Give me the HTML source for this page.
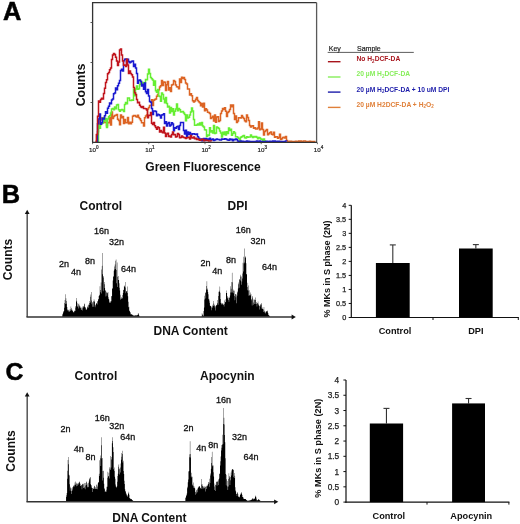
<!DOCTYPE html>
<html><head><meta charset="utf-8"><style>
html,body{margin:0;padding:0;background:#fff;}
body{width:520px;height:524px;overflow:hidden;}
svg{display:block;will-change:transform;filter:blur(0.3px);font-family:"Liberation Sans",sans-serif;}
</style></head><body>
<svg width="520" height="524" viewBox="0 0 520 524">
<rect width="520" height="524" fill="#fff"/>
<text x="2.9" y="19.7" font-size="25.4" font-weight="bold" fill="#000" stroke="#000" stroke-width="0.5">A</text>
<path d="M92.6,142.4V2.6H316.6" fill="none" stroke="#333" stroke-width="1.3"/>
<path d="M316.6,2.6V142.4" fill="none" stroke="#5a5a5a" stroke-width="1.3"/>
<line x1="90.5" y1="22.5" x2="92.6" y2="22.5" stroke="#444" stroke-width="0.9"/>
<line x1="90.5" y1="62.5" x2="92.6" y2="62.5" stroke="#444" stroke-width="0.9"/>
<line x1="90.5" y1="102.5" x2="92.6" y2="102.5" stroke="#444" stroke-width="0.9"/>
<path d="M95.5,141.3H96.5V134.7H97.5V131.7H98.5V124.7H99.5V117.6H100.5V119.8H101.5V118.0H102.5V120.9H103.5V117.6H104.5V122.6H105.5V122.6H106.5V125.8H107.5V122.6H108.5V122.7H109.5V117.6H110.5V124.9H111.5V111.9H112.5V118.4H113.5V116.5H114.5V115.5H115.5V115.2H116.5V114.4H117.5V119.3H118.5V120.5H119.5V124.7H120.5V115.1H121.5V117.8H122.5V116.4H123.5V123.5H124.5V119.6H125.5V122.8H126.5V122.7H127.5V117.5H128.5V123.8H129.5V122.2H130.5V123.7H131.5V122.3H132.5V116.3H133.5V115.4H134.5V115.5H135.5V116.5H136.5V117.0H137.5V115.3H138.5V117.5H139.5V118.8H140.5V120.6H141.5V122.8H142.5V122.7H143.5V125.9H144.5V117.8H145.5V116.0H146.5V115.1H147.5V109.0H148.5V107.6H149.5V105.5H150.5V105.5H151.5V99.8H152.5V105.6H153.5V100.2H154.5V99.4H155.5V99.0H156.5V96.3H157.5V94.5H158.5V89.7H159.5V87.0H160.5V85.8H161.5V80.6H162.5V85.6H163.5V82.1H164.5V82.3H165.5V90.6H166.5V84.7H167.5V81.5H168.5V89.9H169.5V87.7H170.5V91.5H171.5V85.0H172.5V84.4H173.5V80.6H174.5V81.4H175.5V85.0H176.5V86.8H177.5V86.9H178.5V88.8H179.5V78.9H180.5V82.4H181.5V77.2H182.5V78.6H183.5V77.4H184.5V79.5H185.5V83.1H186.5V84.1H187.5V89.0H188.5V89.0H189.5V95.0H190.5V93.7H191.5V95.7H192.5V100.7H193.5V101.9H194.5V101.1H195.5V99.3H196.5V97.5H197.5V100.6H198.5V101.8H199.5V102.7H200.5V105.7H201.5V103.5H202.5V106.9H203.5V103.2H204.5V110.7H205.5V108.7H206.5V109.9H207.5V112.3H208.5V112.5H209.5V113.6H210.5V118.5H211.5V117.4H212.5V116.3H213.5V120.9H214.5V115.1H215.5V122.3H216.5V117.0H217.5V116.8H218.5V121.4H219.5V120.5H220.5V113.4H221.5V111.0H222.5V108.4H223.5V109.4H224.5V107.8H225.5V111.2H226.5V116.5H227.5V112.4H228.5V111.6H229.5V109.4H230.5V104.9H231.5V106.7H232.5V104.9H233.5V113.4H234.5V119.6H235.5V116.1H236.5V122.5H237.5V121.1H238.5V117.7H239.5V117.7H240.5V117.9H241.5V115.6H242.5V117.3H243.5V118.5H244.5V120.8H245.5V121.8H246.5V115.0H247.5V117.4H248.5V120.6H249.5V125.6H250.5V126.9H251.5V125.9H252.5V125.7H253.5V128.2H254.5V127.8H255.5V129.1H256.5V129.1H257.5V128.1H258.5V121.8H259.5V129.8H260.5V128.9H261.5V123.1H262.5V129.6H263.5V135.0H264.5V131.5H265.5V130.4H266.5V129.4H267.5V134.7H268.5V133.8H269.5V132.8H270.5V132.0H271.5V134.2H272.5V134.7H273.5V132.3H274.5V137.3H275.5V136.7H276.5V136.7H277.5V138.2H278.5V137.6H279.5V134.2H280.5V139.4H281.5V138.8H282.5V137.5H283.5V137.2H284.5V137.9H285.5V136.4H286.5V140.4H287.5V141.4H288.5V141.4H289.5V141.2H290.5V141.3H291.5V141.6H292.5V141.6H293.5V141.6H294.5V141.5H295.5V141.2H296.5V141.6H297.5V141.6H298.5V141.0H299.5V141.6H300.5V140.9H301.5V141.4H302.5V141.6H303.5V141.1H304.5V141.1H305.5V141.6H306.5V141.6H307.5V141.4H308.5V141.6H309.5V141.3H310.5V141.6H311.5V141.5H312.5V141.6H313.5V141.6H314.5V141.6H315.5V141.6" fill="none" stroke="#dc6424" stroke-width="1.5" stroke-linejoin="miter"/>
<path d="M97.5,141.6H98.5V124.9H99.5V128.3H100.5V124.6H101.5V123.6H102.5V123.0H103.5V117.7H104.5V120.9H105.5V118.4H106.5V127.5H107.5V119.0H108.5V116.7H109.5V115.8H110.5V112.9H111.5V109.0H112.5V108.6H113.5V109.7H114.5V106.9H115.5V108.8H116.5V105.0H117.5V104.6H118.5V109.7H119.5V111.3H120.5V110.1H121.5V109.6H122.5V110.0H123.5V111.6H124.5V104.4H125.5V102.4H126.5V103.7H127.5V97.9H128.5V98.0H129.5V100.5H130.5V100.4H131.5V99.9H132.5V100.3H133.5V89.2H134.5V95.8H135.5V89.0H136.5V86.0H137.5V89.3H138.5V88.8H139.5V84.4H140.5V81.2H141.5V82.9H142.5V82.4H143.5V85.5H144.5V82.8H145.5V79.5H146.5V79.7H147.5V74.0H148.5V69.3H149.5V73.4H150.5V77.4H151.5V78.8H152.5V80.1H153.5V85.2H154.5V81.0H155.5V90.7H156.5V92.2H157.5V89.4H158.5V96.1H159.5V96.4H160.5V101.2H161.5V93.1H162.5V94.5H163.5V99.0H164.5V102.8H165.5V97.5H166.5V103.6H167.5V107.0H168.5V106.3H169.5V113.1H170.5V107.4H171.5V111.6H172.5V108.7H173.5V115.1H174.5V111.2H175.5V108.9H176.5V104.1H177.5V110.8H178.5V108.5H179.5V109.8H180.5V112.1H181.5V111.8H182.5V111.5H183.5V113.1H184.5V114.6H185.5V120.8H186.5V115.0H187.5V118.1H188.5V117.3H189.5V114.9H190.5V112.0H191.5V107.9H192.5V111.0H193.5V119.5H194.5V125.2H195.5V125.2H196.5V125.0H197.5V124.0H198.5V124.9H199.5V123.0H200.5V125.0H201.5V122.4H202.5V126.1H203.5V127.0H204.5V129.8H205.5V130.0H206.5V136.6H207.5V134.9H208.5V135.6H209.5V127.8H210.5V131.9H211.5V130.7H212.5V132.9H213.5V125.6H214.5V133.6H215.5V133.0H216.5V127.0H217.5V127.8H218.5V128.6H219.5V130.9H220.5V132.9H221.5V136.9H222.5V132.2H223.5V134.4H224.5V132.1H225.5V135.1H226.5V131.8H227.5V133.6H228.5V128.0H229.5V130.4H230.5V129.2H231.5V135.2H232.5V133.6H233.5V131.7H234.5V133.1H235.5V136.7H236.5V136.7H237.5V137.4H238.5V138.5H239.5V140.5H240.5V137.3H241.5V136.8H242.5V135.9H243.5V135.5H244.5V137.8H245.5V138.1H246.5V136.8H247.5V137.2H248.5V137.0H249.5V137.1H250.5V135.0H251.5V136.5H252.5V137.4H253.5V136.4H254.5V136.9H255.5V136.6H256.5V137.3H257.5V138.8H258.5V137.6H259.5V138.0H260.5V139.1H261.5V139.2H262.5V140.4H263.5V139.0H264.5V140.8H265.5V141.1" fill="none" stroke="#66ee33" stroke-width="1.5" stroke-linejoin="miter"/>
<path d="M96.5,141.6H97.5V123.7H98.5V119.0H99.5V114.1H100.5V124.3H101.5V122.7H102.5V118.2H103.5V118.9H104.5V115.7H105.5V111.7H106.5V113.3H107.5V108.3H108.5V106.2H109.5V103.1H110.5V103.8H111.5V100.0H112.5V99.1H113.5V93.8H114.5V93.1H115.5V88.1H116.5V89.8H117.5V85.7H118.5V83.3H119.5V80.5H120.5V70.6H121.5V69.2H122.5V70.9H123.5V60.7H124.5V59.3H125.5V58.9H126.5V63.0H127.5V59.3H128.5V61.6H129.5V62.7H130.5V62.0H131.5V61.2H132.5V61.1H133.5V66.6H134.5V64.3H135.5V68.0H136.5V73.6H137.5V83.3H138.5V80.3H139.5V79.9H140.5V81.5H141.5V86.0H142.5V84.3H143.5V89.3H144.5V82.9H145.5V91.7H146.5V93.5H147.5V89.6H148.5V95.9H149.5V101.4H150.5V102.2H151.5V108.4H152.5V114.4H153.5V110.9H154.5V111.1H155.5V111.4H156.5V115.8H157.5V114.3H158.5V114.8H159.5V115.5H160.5V118.1H161.5V114.9H162.5V114.8H163.5V113.7H164.5V123.4H165.5V121.7H166.5V126.1H167.5V123.5H168.5V122.5H169.5V125.9H170.5V125.1H171.5V122.7H172.5V124.0H173.5V130.7H174.5V127.7H175.5V128.2H176.5V126.8H177.5V126.2H178.5V129.4H179.5V125.5H180.5V122.4H181.5V122.4H182.5V122.5H183.5V130.5H184.5V134.0H185.5V130.3H186.5V136.4H187.5V132.1H188.5V134.4H189.5V132.4H190.5V133.9H191.5V134.6H192.5V133.8H193.5V133.8H194.5V134.3H195.5V134.5H196.5V134.1H197.5V136.7H198.5V138.2H199.5V139.0H200.5V138.9H201.5V140.7H202.5V138.9H203.5V138.5H204.5V140.4H205.5V138.5H206.5V140.0H207.5V138.9H208.5V139.7H209.5V138.3H210.5V140.0H211.5V139.4H212.5V138.9H213.5V140.5H214.5V140.0H215.5V139.5H216.5V139.1H217.5V139.5H218.5V139.4H219.5V139.9H220.5V140.0H221.5V139.1H222.5V139.2H223.5V139.2H224.5V138.7H225.5V139.1H226.5V139.4H227.5V139.9H228.5V140.3H229.5V139.0H230.5V139.8H231.5V139.2H232.5V140.7H233.5V139.5H234.5V139.8H235.5V138.9H236.5V139.6H237.5V141.1H238.5V141.4H239.5V141.6H240.5V141.1H241.5V141.6H242.5V141.2H243.5V141.6H244.5V141.4H245.5V141.6H246.5V141.1H247.5V141.6H248.5V141.2H249.5V141.4H250.5V141.5H251.5V141.4H252.5V141.6H253.5V141.6H254.5V141.6H255.5V141.5H256.5V141.1H257.5V141.3H258.5V141.4H259.5V140.9H260.5V141.6H261.5V141.4H262.5V141.4H263.5V141.6H264.5V141.6H265.5V141.6H266.5V141.2H267.5V141.6H268.5V141.6H269.5V141.2H270.5V141.6H271.5V141.6H272.5V140.9H273.5V141.5H274.5V141.1H275.5V141.6H276.5V141.6H277.5V141.2H278.5V141.2H279.5V141.5H280.5V141.4H281.5V141.6H282.5V141.6H283.5V141.4H284.5V141.6H285.5V140.9H286.5V141.6" fill="none" stroke="#1a1ad0" stroke-width="1.5" stroke-linejoin="miter"/>
<path d="M95.5,141.6H96.5V134.5H97.5V116.3H98.5V100.9H99.5V102.2H100.5V99.6H101.5V98.2H102.5V98.9H103.5V93.4H104.5V88.2H105.5V82.6H106.5V79.8H107.5V73.7H108.5V72.6H109.5V69.8H110.5V67.9H111.5V59.6H112.5V55.1H113.5V53.6H114.5V54.5H115.5V57.3H116.5V61.1H117.5V65.6H118.5V61.9H119.5V50.0H120.5V49.0H121.5V54.9H122.5V61.0H123.5V65.2H124.5V65.0H125.5V66.6H126.5V59.3H127.5V65.1H128.5V73.4H129.5V71.1H130.5V73.6H131.5V74.8H132.5V77.0H133.5V87.4H134.5V92.8H135.5V94.6H136.5V99.4H137.5V102.8H138.5V102.2H139.5V105.3H140.5V106.7H141.5V107.6H142.5V106.5H143.5V108.4H144.5V108.5H145.5V108.8H146.5V110.0H147.5V117.8H148.5V115.3H149.5V115.6H150.5V112.4H151.5V123.2H152.5V124.5H153.5V122.5H154.5V125.7H155.5V127.6H156.5V129.2H157.5V127.1H158.5V127.8H159.5V132.0H160.5V130.6H161.5V131.9H162.5V132.7H163.5V127.2H164.5V133.0H165.5V136.5H166.5V134.1H167.5V133.3H168.5V136.6H169.5V135.9H170.5V137.0H171.5V134.4H172.5V131.9H173.5V134.7H174.5V134.5H175.5V137.1H176.5V136.4H177.5V133.6H178.5V134.5H179.5V137.8H180.5V137.6H181.5V135.9H182.5V136.9H183.5V137.6H184.5V137.8H185.5V138.4H186.5V137.7H187.5V137.4H188.5V137.3H189.5V138.9H190.5V135.4H191.5V137.8H192.5V138.1H193.5V137.0H194.5V138.8H195.5V138.2H196.5V139.6H197.5V139.1H198.5V139.8H199.5V140.3H200.5V139.9H201.5V139.3H202.5V139.2H203.5V140.8H204.5V140.1H205.5V140.0H206.5V140.4H207.5V140.4H208.5V140.9H209.5V140.9H210.5V141.1H211.5V141.2" fill="none" stroke="#c0141c" stroke-width="1.5" stroke-linejoin="miter"/>
<line x1="92" y1="142.4" x2="317" y2="142.4" stroke="#333" stroke-width="1.3"/>
<line x1="92.6" y1="142.4" x2="92.6" y2="144.2" stroke="#444" stroke-width="0.8"/>
<text x="89.0" y="151.5" font-size="6.2" fill="#222" stroke="#222" stroke-width="0.2">10<tspan dy="-2.6" font-size="4.6">0</tspan></text>
<line x1="148.8" y1="142.4" x2="148.8" y2="144.2" stroke="#444" stroke-width="0.8"/>
<text x="145.2" y="151.5" font-size="6.2" fill="#222" stroke="#222" stroke-width="0.2">10<tspan dy="-2.6" font-size="4.6">1</tspan></text>
<line x1="205.0" y1="142.4" x2="205.0" y2="144.2" stroke="#444" stroke-width="0.8"/>
<text x="201.4" y="151.5" font-size="6.2" fill="#222" stroke="#222" stroke-width="0.2">10<tspan dy="-2.6" font-size="4.6">2</tspan></text>
<line x1="261.2" y1="142.4" x2="261.2" y2="144.2" stroke="#444" stroke-width="0.8"/>
<text x="257.6" y="151.5" font-size="6.2" fill="#222" stroke="#222" stroke-width="0.2">10<tspan dy="-2.6" font-size="4.6">3</tspan></text>
<line x1="317.4" y1="142.4" x2="317.4" y2="144.2" stroke="#444" stroke-width="0.8"/>
<text x="313.8" y="151.5" font-size="6.2" fill="#222" stroke="#222" stroke-width="0.2">10<tspan dy="-2.6" font-size="4.6">4</tspan></text>
<text transform="translate(85.0,85) rotate(-90)" font-size="12.4" font-weight="bold" text-anchor="middle" fill="#111">Counts</text>
<text x="145.3" y="170.6" font-size="12" font-weight="bold" fill="#111">Green Fluorescence</text>
<text x="328.8" y="51" font-size="7" fill="#222" stroke="#222" stroke-width="0.2">Key</text>
<text x="357" y="51" font-size="7" fill="#222" stroke="#222" stroke-width="0.2">Sample</text>
<line x1="327.7" y1="52.4" x2="413.8" y2="52.4" stroke="#333" stroke-width="0.8"/>
<line x1="327.9" y1="61.7" x2="340.5" y2="61.7" stroke="#a8141c" stroke-width="1.4"/>
<text x="356.5" y="61.1" font-size="6.7" font-weight="bold" fill="#a8141c">No H<tspan font-size='4.5' dy='1.5'>2</tspan><tspan dy='-1.5'>DCF-DA</tspan></text>
<line x1="327.9" y1="77.0" x2="340.5" y2="77.0" stroke="#86ee5a" stroke-width="1.4"/>
<text x="356.5" y="76.4" font-size="6.7" font-weight="bold" fill="#86ee5a">20 µM H<tspan font-size='4.5' dy='1.5'>2</tspan><tspan dy='-1.5'>DCF-DA</tspan></text>
<line x1="327.9" y1="92.1" x2="340.5" y2="92.1" stroke="#1c1caa" stroke-width="1.4"/>
<text x="356.5" y="91.5" font-size="6.7" font-weight="bold" fill="#1c1caa">20 µM H<tspan font-size='4.5' dy='1.5'>2</tspan><tspan dy='-1.5'>DCF-DA + 10 uM DPI</tspan></text>
<line x1="327.9" y1="107.4" x2="340.5" y2="107.4" stroke="#e0803a" stroke-width="1.4"/>
<text x="356.5" y="106.80000000000001" font-size="6.7" font-weight="bold" fill="#e0803a">20 µM H2DCF-DA + H<tspan font-size='4.5' dy='1.5'>2</tspan><tspan dy='-1.5'>O</tspan><tspan font-size='4.5' dy='1.5'>2</tspan></text>
<text x="1.7" y="203.3" font-size="25.4" font-weight="bold" fill="#000" stroke="#000" stroke-width="0.5">B</text>
<path d="M62.00,316.8V316.5H62.35V314.4H62.70V313.8H63.05V312.5H63.40V311.6H63.75V310.9H64.10V307.8H64.45V303.1H64.80V299.9H65.15V304.1H65.50V294.3H65.85V298.2H66.20V301.1H66.55V303.8H66.90V307.0H67.25V309.4H67.60V310.6H67.95V309.8H68.30V310.2H68.65V311.5H69.00V311.3H69.35V311.7H69.70V309.4H70.05V309.2H70.40V311.0H70.75V306.4H71.10V307.9H71.45V310.2H71.80V309.2H72.15V310.3H72.50V310.9H72.85V311.5H73.20V312.3H73.55V312.2H73.90V312.3H74.25V310.8H74.60V310.8H74.95V310.9H75.30V307.5H75.65V306.0H76.00V301.8H76.35V297.9H76.70V300.7H77.05V303.2H77.40V306.5H77.75V306.6H78.10V308.6H78.45V304.2H78.80V303.6H79.15V306.3H79.50V305.2H79.85V307.6H80.20V306.5H80.55V308.0H80.90V309.6H81.25V310.1H81.60V307.4H81.95V308.3H82.30V310.4H82.65V306.6H83.00V306.4H83.35V307.4H83.70V306.0H84.05V304.3H84.40V303.6H84.75V307.0H85.10V307.4H85.45V307.6H85.80V309.4H86.15V309.4H86.50V309.8H86.85V308.4H87.20V306.5H87.55V307.2H87.90V305.2H88.25V304.4H88.60V307.7H88.95V305.1H89.30V303.1H89.65V301.1H90.00V302.5H90.35V296.7H90.70V294.5H91.05V292.0H91.40V300.6H91.75V304.2H92.10V302.6H92.45V306.7H92.80V302.1H93.15V301.0H93.50V306.7H93.85V299.3H94.20V300.8H94.55V301.9H94.90V307.3H95.25V304.7H95.60V305.4H95.95V304.1H96.30V303.2H96.65V303.0H97.00V304.4H97.35V301.2H97.70V301.2H98.05V299.5H98.40V298.9H98.75V295.9H99.10V294.7H99.45V295.5H99.80V286.3H100.15V292.2H100.50V290.0H100.85V282.5H101.20V293.5H101.55V269.6H101.90V265.8H102.25V253.0H102.60V274.3H102.95V291.3H103.30V277.5H103.65V275.9H104.00V282.0H104.35V284.2H104.70V288.1H105.05V290.5H105.40V290.6H105.75V296.4H106.10V291.8H106.45V292.8H106.80V295.7H107.15V293.3H107.50V292.7H107.85V292.0H108.20V297.3H108.55V298.9H108.90V299.4H109.25V302.9H109.60V301.7H109.95V302.2H110.30V302.8H110.65V301.1H111.00V301.2H111.35V296.2H111.70V296.0H112.05V289.1H112.40V287.9H112.75V280.4H113.10V277.1H113.45V275.9H113.80V270.8H114.15V269.4H114.50V266.6H114.85V264.6H115.20V269.0H115.55V260.8H115.90V259.4H116.25V283.2H116.60V270.0H116.95V262.6H117.30V287.1H117.65V276.7H118.00V276.0H118.35V280.0H118.70V279.9H119.05V283.2H119.40V287.7H119.75V290.6H120.10V299.7H120.45V294.7H120.80V298.6H121.15V296.9H121.50V298.7H121.85V298.4H122.20V298.3H122.55V294.9H122.90V293.0H123.25V289.8H123.60V289.9H123.95V286.1H124.30V287.1H124.65V285.4H125.00V282.0H125.35V287.5H125.70V293.3H126.05V291.5H126.40V291.2H126.75V291.0H127.10V286.6H127.45V293.1H127.80V296.2H128.15V301.8H128.50V307.3H128.85V306.7H129.20V310.8H129.55V310.7H129.90V312.1H130.25V312.6H130.60V314.2H130.95V314.7H131.30V313.9H131.65V314.3H132.00V314.6H132.35V315.2H132.70V314.9H133.05V315.4H133.40V315.4H133.75V315.5H134.10V315.8H134.45V315.6H134.80V315.5H135.15V315.4H135.50V315.3H135.85V315.2H136.20V315.4H136.55V315.3H136.90V315.4H137.25V314.7H137.60V314.9H137.95V312.9H138.30V313.8H138.65V314.8H139.00V315.6H139.35V316.2H139.70V316.8Z" fill="#000"/>
<path d="M201.50,316.8V316.5H201.85V313.3H202.20V314.3H202.55V315.3H202.90V315.8H203.25V315.8H203.60V311.1H203.95V307.6H204.30V299.4H204.65V295.8H205.00V292.7H205.35V292.6H205.70V298.6H206.05V286.0H206.40V289.5H206.75V281.2H207.10V289.7H207.45V288.4H207.80V292.1H208.15V294.2H208.50V299.3H208.85V298.8H209.20V300.5H209.55V302.7H209.90V305.6H210.25V306.1H210.60V306.0H210.95V307.5H211.30V306.5H211.65V310.2H212.00V307.8H212.35V306.2H212.70V304.8H213.05V306.0H213.40V301.0H213.75V303.6H214.10V304.8H214.45V305.8H214.80V307.4H215.15V310.4H215.50V306.3H215.85V305.8H216.20V305.3H216.55V305.1H216.90V304.4H217.25V302.9H217.60V300.0H217.95V304.8H218.30V295.9H218.65V291.7H219.00V292.0H219.35V290.8H219.70V286.6H220.05V292.8H220.40V299.0H220.75V303.1H221.10V302.7H221.45V304.1H221.80V305.0H222.15V303.1H222.50V303.9H222.85V303.4H223.20V304.5H223.55V304.9H223.90V306.4H224.25V303.9H224.60V300.6H224.95V299.2H225.30V302.0H225.65V302.3H226.00V293.1H226.35V290.4H226.70V293.0H227.05V297.4H227.40V296.1H227.75V298.6H228.10V300.0H228.45V297.4H228.80V301.7H229.15V297.6H229.50V297.8H229.85V295.6H230.20V292.5H230.55V286.3H230.90V288.7H231.25V292.6H231.60V281.9H231.95V272.8H232.30V282.3H232.65V292.4H233.00V293.3H233.35V290.7H233.70V289.5H234.05V290.8H234.40V295.9H234.75V300.2H235.10V294.3H235.45V294.0H235.80V297.2H236.15V294.5H236.50V303.3H236.85V295.7H237.20V291.6H237.55V292.6H237.90V288.4H238.25V284.3H238.60V282.5H238.95V287.8H239.30V279.2H239.65V279.6H240.00V280.6H240.35V274.8H240.70V276.4H241.05V276.4H241.40V284.8H241.75V281.4H242.10V273.4H242.45V278.6H242.80V262.7H243.15V271.4H243.50V256.8H243.85V263.4H244.20V262.5H244.55V248.6H244.90V257.4H245.25V256.3H245.60V257.6H245.95V263.2H246.30V273.9H246.65V274.5H247.00V290.3H247.35V287.0H247.70V282.7H248.05V285.6H248.40V290.5H248.75V295.8H249.10V290.3H249.45V295.4H249.80V295.1H250.15V295.5H250.50V292.5H250.85V294.0H251.20V299.0H251.55V300.2H251.90V305.4H252.25V296.0H252.60V297.5H252.95V299.6H253.30V304.7H253.65V302.6H254.00V304.1H254.35V299.8H254.70V299.6H255.05V297.5H255.40V300.0H255.75V304.0H256.10V302.0H256.45V303.7H256.80V306.5H257.15V302.9H257.50V303.5H257.85V301.5H258.20V305.2H258.55V303.8H258.90V305.6H259.25V306.1H259.60V309.6H259.95V306.4H260.30V304.9H260.65V303.9H261.00V303.0H261.35V304.5H261.70V308.4H262.05V307.5H262.40V309.1H262.75V309.1H263.10V309.6H263.45V312.0H263.80V307.0H264.15V311.7H264.50V310.8H264.85V313.1H265.20V311.8H265.55V313.4H265.90V311.7H266.25V311.4H266.60V311.1H266.95V310.9H267.30V310.5H267.65V312.6H268.00V313.2H268.35V314.9H268.70V315.2H269.05V315.6H269.40V316.0H269.75V316.4H270.10V316.8Z" fill="#000"/>
<line x1="27.2" y1="317.0" x2="27.2" y2="213.3" stroke="#555" stroke-width="1.5"/>
<path d="M27.2,209.8L24.8,214.0L29.599999999999998,214.0Z" fill="#111"/>
<line x1="26.45" y1="317.0" x2="292.3" y2="317.0" stroke="#333" stroke-width="1.5"/>
<path d="M295.8,317.0L291.6,314.6L291.6,319.4Z" fill="#111"/>
<text transform="translate(12.2,259.5) rotate(-90)" font-size="12" font-weight="bold" text-anchor="middle" fill="#111">Counts</text>
<text x="79.5" y="210.2" font-size="12" font-weight="bold" fill="#111">Control</text>
<text x="227.5" y="210.2" font-size="12" font-weight="bold" fill="#111">DPI</text>
<text x="153.5" y="334.7" font-size="12" font-weight="bold" fill="#111">DNA Content</text>
<text x="59.099999999999994" y="266.79999999999995" font-size="9" font-weight="normal" text-anchor="start" fill="#111" stroke="#111" stroke-width="0.3">2n</text>
<text x="70.89999999999999" y="274.7" font-size="9" font-weight="normal" text-anchor="start" fill="#111" stroke="#111" stroke-width="0.3">4n</text>
<text x="84.89999999999999" y="263.7" font-size="9" font-weight="normal" text-anchor="start" fill="#111" stroke="#111" stroke-width="0.3">8n</text>
<text x="94.0" y="233.70000000000002" font-size="9" font-weight="normal" text-anchor="start" fill="#111" stroke="#111" stroke-width="0.3">16n</text>
<text x="108.89999999999999" y="245.0" font-size="9" font-weight="normal" text-anchor="start" fill="#111" stroke="#111" stroke-width="0.3">32n</text>
<text x="121.1" y="271.59999999999997" font-size="9" font-weight="normal" text-anchor="start" fill="#111" stroke="#111" stroke-width="0.3">64n</text>
<text x="200.5" y="266.4" font-size="9" font-weight="normal" text-anchor="start" fill="#111" stroke="#111" stroke-width="0.3">2n</text>
<text x="212.3" y="274.0" font-size="9" font-weight="normal" text-anchor="start" fill="#111" stroke="#111" stroke-width="0.3">4n</text>
<text x="226.0" y="263.29999999999995" font-size="9" font-weight="normal" text-anchor="start" fill="#111" stroke="#111" stroke-width="0.3">8n</text>
<text x="235.8" y="232.8" font-size="9" font-weight="normal" text-anchor="start" fill="#111" stroke="#111" stroke-width="0.3">16n</text>
<text x="250.4" y="244.3" font-size="9" font-weight="normal" text-anchor="start" fill="#111" stroke="#111" stroke-width="0.3">32n</text>
<text x="261.90000000000003" y="270.4" font-size="9" font-weight="normal" text-anchor="start" fill="#111" stroke="#111" stroke-width="0.3">64n</text>
<line x1="351.3" y1="205.3" x2="351.3" y2="318.1" stroke="#111" stroke-width="1.2"/>
<line x1="350.7" y1="317.5" x2="518.8" y2="317.5" stroke="#111" stroke-width="1.2"/>
<line x1="348.7" y1="205.30" x2="351.3" y2="205.30" stroke="#111" stroke-width="1"/>
<text x="346.2" y="207.91" font-size="7.3" text-anchor="end" fill="#222" stroke="#222" stroke-width="0.25">4</text>
<line x1="348.7" y1="219.33" x2="351.3" y2="219.33" stroke="#111" stroke-width="1"/>
<text x="346.2" y="221.94" font-size="7.3" text-anchor="end" fill="#222" stroke="#222" stroke-width="0.25">3.5</text>
<line x1="348.7" y1="233.35" x2="351.3" y2="233.35" stroke="#111" stroke-width="1"/>
<text x="346.2" y="235.96" font-size="7.3" text-anchor="end" fill="#222" stroke="#222" stroke-width="0.25">3</text>
<line x1="348.7" y1="247.38" x2="351.3" y2="247.38" stroke="#111" stroke-width="1"/>
<text x="346.2" y="249.99" font-size="7.3" text-anchor="end" fill="#222" stroke="#222" stroke-width="0.25">2.5</text>
<line x1="348.7" y1="261.40" x2="351.3" y2="261.40" stroke="#111" stroke-width="1"/>
<text x="346.2" y="264.01" font-size="7.3" text-anchor="end" fill="#222" stroke="#222" stroke-width="0.25">2</text>
<line x1="348.7" y1="275.43" x2="351.3" y2="275.43" stroke="#111" stroke-width="1"/>
<text x="346.2" y="278.04" font-size="7.3" text-anchor="end" fill="#222" stroke="#222" stroke-width="0.25">1.5</text>
<line x1="348.7" y1="289.45" x2="351.3" y2="289.45" stroke="#111" stroke-width="1"/>
<text x="346.2" y="292.06" font-size="7.3" text-anchor="end" fill="#222" stroke="#222" stroke-width="0.25">1</text>
<line x1="348.7" y1="303.48" x2="351.3" y2="303.48" stroke="#111" stroke-width="1"/>
<text x="346.2" y="306.09" font-size="7.3" text-anchor="end" fill="#222" stroke="#222" stroke-width="0.25">0.5</text>
<line x1="348.7" y1="317.50" x2="351.3" y2="317.50" stroke="#111" stroke-width="1"/>
<text x="346.2" y="320.11" font-size="7.3" text-anchor="end" fill="#222" stroke="#222" stroke-width="0.25">0</text>
<line x1="433" y1="317.5" x2="433" y2="320.0" stroke="#111" stroke-width="1"/>
<line x1="518.3" y1="317.5" x2="518.3" y2="320.0" stroke="#111" stroke-width="1"/>
<line x1="392.79999999999995" y1="244.91" x2="392.79999999999995" y2="263.00" stroke="#333" stroke-width="1.1"/>
<line x1="389.79999999999995" y1="244.91" x2="395.79999999999995" y2="244.91" stroke="#333" stroke-width="1.1"/>
<rect x="375.9" y="263.00" width="33.80000000000001" height="54.50" fill="#000"/>
<text x="378.7" y="334.1" font-size="9.2" font-weight="bold" fill="#111">Control</text>
<line x1="475.85" y1="244.60" x2="475.85" y2="248.50" stroke="#333" stroke-width="1.1"/>
<line x1="472.85" y1="244.60" x2="478.85" y2="244.60" stroke="#333" stroke-width="1.1"/>
<rect x="459.0" y="248.50" width="33.69999999999999" height="69.00" fill="#000"/>
<text x="468.2" y="334.1" font-size="9.2" font-weight="bold" fill="#111">DPI</text>
<text transform="translate(329.6,268.9) rotate(-90)" font-size="9.0" font-weight="bold" text-anchor="middle" fill="#111">% MKs in S phase (2N)</text>
<text x="5.6" y="380.0" font-size="24.8" font-weight="bold" fill="#000" stroke="#000" stroke-width="0.5">C</text>
<path d="M65.70,501.6V501.5H66.05V497.1H66.40V495.3H66.75V492.9H67.10V478.7H67.45V470.8H67.80V459.9H68.15V457.0H68.50V464.2H68.85V474.7H69.20V475.4H69.55V484.2H69.90V490.7H70.25V486.7H70.60V488.2H70.95V488.3H71.30V493.9H71.65V490.9H72.00V487.1H72.35V490.6H72.70V488.4H73.05V486.8H73.40V485.9H73.75V485.2H74.10V484.7H74.45V486.4H74.80V482.5H75.15V481.4H75.50V485.0H75.85V484.1H76.20V482.7H76.55V486.2H76.90V483.4H77.25V483.7H77.60V485.8H77.95V484.8H78.30V483.5H78.65V482.7H79.00V482.0H79.35V481.4H79.70V483.3H80.05V483.7H80.40V485.9H80.75V485.7H81.10V485.3H81.45V485.0H81.80V489.2H82.15V484.3H82.50V484.2H82.85V483.6H83.20V484.3H83.55V487.9H83.90V488.2H84.25V482.9H84.60V487.3H84.95V489.3H85.30V485.4H85.65V482.9H86.00V482.3H86.35V481.4H86.70V485.1H87.05V483.5H87.40V486.7H87.75V487.4H88.10V486.9H88.45V482.9H88.80V481.4H89.15V479.4H89.50V478.4H89.85V477.8H90.20V477.1H90.55V484.0H90.90V485.0H91.25V485.6H91.60V487.6H91.95V488.1H92.30V488.0H92.65V492.1H93.00V489.1H93.35V488.8H93.70V487.5H94.05V486.2H94.40V485.7H94.75V489.0H95.10V488.5H95.45V487.1H95.80V488.9H96.15V489.0H96.50V484.7H96.85V484.6H97.20V489.2H97.55V486.4H97.90V482.7H98.25V482.6H98.60V481.9H98.95V473.8H99.30V476.1H99.65V460.2H100.00V455.4H100.35V458.3H100.70V465.9H101.05V445.3H101.40V437.2H101.75V458.6H102.10V458.0H102.45V480.5H102.80V471.0H103.15V470.8H103.50V477.7H103.85V483.7H104.20V488.3H104.55V489.2H104.90V492.1H105.25V491.0H105.60V491.7H105.95V489.8H106.30V491.7H106.65V486.8H107.00V486.8H107.35V477.7H107.70V471.7H108.05V476.2H108.40V476.3H108.75V472.8H109.10V478.5H109.45V467.2H109.80V468.7H110.15V470.1H110.50V456.1H110.85V467.6H111.20V456.9H111.55V459.6H111.90V443.3H112.25V441.1H112.60V437.2H112.95V447.3H113.30V469.2H113.65V452.1H114.00V471.0H114.35V467.4H114.70V476.7H115.05V478.8H115.40V484.5H115.75V486.4H116.10V487.1H116.45V487.8H116.80V486.2H117.15V481.8H117.50V476.0H117.85V473.7H118.20V464.4H118.55V466.8H118.90V469.2H119.25V468.5H119.60V474.6H119.95V463.5H120.30V472.6H120.65V467.6H121.00V459.8H121.35V452.9H121.70V456.7H122.05V450.8H122.40V453.9H122.75V462.5H123.10V460.8H123.45V471.1H123.80V474.0H124.15V480.8H124.50V484.1H124.85V489.2H125.20V490.9H125.55V491.7H125.90V493.5H126.25V493.7H126.60V495.3H126.95V496.6H127.30V495.1H127.65V496.5H128.00V494.0H128.35V493.0H128.70V491.7H129.05V494.8H129.40V498.0H129.75V498.2H130.10V498.4H130.45V499.1H130.80V499.3H131.15V499.0H131.50V499.1H131.85V499.9H132.20V499.9H132.55V500.6H132.90V500.7H133.25V501.2H133.60V501.6Z" fill="#000"/>
<path d="M185.00,501.6V501.5H185.35V497.7H185.70V497.6H186.05V495.6H186.40V495.4H186.75V493.6H187.10V486.8H187.45V488.3H187.80V482.2H188.15V479.5H188.50V471.6H188.85V471.0H189.20V454.3H189.55V457.3H189.90V441.2H190.25V454.0H190.60V457.4H190.95V477.5H191.30V476.4H191.65V472.8H192.00V476.7H192.35V485.4H192.70V484.4H193.05V482.6H193.40V486.3H193.75V487.9H194.10V486.5H194.45V488.0H194.80V488.6H195.15V491.9H195.50V494.7H195.85V491.5H196.20V493.4H196.55V490.1H196.90V489.4H197.25V492.2H197.60V488.6H197.95V487.3H198.30V486.6H198.65V487.7H199.00V486.4H199.35V486.0H199.70V486.4H200.05V487.8H200.40V488.0H200.75V488.7H201.10V484.6H201.45V479.0H201.80V489.0H202.15V484.2H202.50V486.1H202.85V486.3H203.20V487.2H203.55V488.5H203.90V486.1H204.25V487.4H204.60V488.2H204.95V487.1H205.30V491.4H205.65V486.5H206.00V489.1H206.35V486.6H206.70V485.7H207.05V485.4H207.40V486.3H207.75V484.6H208.10V482.2H208.45V484.1H208.80V482.1H209.15V486.8H209.50V478.7H209.85V482.9H210.20V475.5H210.55V473.6H210.90V468.7H211.25V463.1H211.60V457.0H211.95V451.7H212.30V465.2H212.65V466.3H213.00V465.4H213.35V472.3H213.70V476.5H214.05V489.9H214.40V486.5H214.75V483.4H215.10V491.0H215.45V484.9H215.80V484.8H216.15V481.8H216.50V481.8H216.85V485.7H217.20V481.7H217.55V481.5H217.90V480.6H218.25V485.1H218.60V479.3H218.95V478.4H219.30V474.1H219.65V473.4H220.00V465.6H220.35V461.2H220.70V456.4H221.05V450.4H221.40V445.0H221.75V447.7H222.10V444.8H222.45V434.7H222.80V444.1H223.15V408.0H223.50V424.0H223.85V417.8H224.20V424.4H224.55V435.0H224.90V442.3H225.25V458.3H225.60V474.1H225.95V485.4H226.30V479.3H226.65V474.8H227.00V481.0H227.35V486.5H227.70V490.1H228.05V486.4H228.40V479.0H228.75V473.3H229.10V476.1H229.45V477.5H229.80V484.9H230.15V477.1H230.50V480.2H230.85V472.4H231.20V475.6H231.55V470.4H231.90V469.6H232.25V469.0H232.60V469.2H232.95V469.4H233.30V477.2H233.65V469.9H234.00V477.9H234.35V473.0H234.70V475.8H235.05V487.2H235.40V490.6H235.75V491.4H236.10V493.8H236.45V494.1H236.80V495.9H237.15V492.7H237.50V492.2H237.85V494.0H238.20V496.6H238.55V496.7H238.90V496.9H239.25V497.6H239.60V496.6H239.95V494.9H240.30V494.4H240.65V493.6H241.00V492.8H241.35V492.2H241.70V494.1H242.05V495.0H242.40V497.1H242.75V497.1H243.10V497.4H243.45V498.7H243.80V498.8H244.15V499.0H244.50V499.1H244.85V499.0H245.20V499.1H245.55V499.0H245.90V499.7H246.25V499.9H246.60V500.3H246.95V500.5H247.30V500.8H247.65V500.8H248.00V500.8H248.35V500.5H248.70V500.8H249.05V500.4H249.40V500.4H249.75V500.2H250.10V500.6H250.45V500.1H250.80V500.1H251.15V500.1H251.50V499.5H251.85V499.2H252.20V498.5H252.55V498.2H252.90V499.4H253.25V498.6H253.60V499.3H253.95V498.9H254.30V498.9H254.65V497.9H255.00V497.1H255.35V496.2H255.70V495.6H256.05V497.5H256.40V499.2H256.75V500.6H257.10V500.5H257.45V500.1H257.80V499.9H258.15V499.4H258.50V499.0H258.85V499.6H259.20V499.9H259.55V500.2H259.90V500.7H260.25V500.8H260.60V501.2H260.95V501.5H261.30V501.6Z" fill="#000"/>
<line x1="27.2" y1="501.8" x2="27.2" y2="395.8" stroke="#555" stroke-width="1.5"/>
<path d="M27.2,392.3L24.8,396.5L29.599999999999998,396.5Z" fill="#111"/>
<line x1="26.45" y1="501.8" x2="274.8" y2="501.8" stroke="#333" stroke-width="1.5"/>
<path d="M278.3,501.8L274.1,499.40000000000003L274.1,504.2Z" fill="#111"/>
<text transform="translate(14.8,451) rotate(-90)" font-size="12" font-weight="bold" text-anchor="middle" fill="#111">Counts</text>
<text x="74.6" y="379.9" font-size="12" font-weight="bold" fill="#111">Control</text>
<text x="200" y="380.4" font-size="12" font-weight="bold" fill="#111">Apocynin</text>
<text x="112.3" y="522.0" font-size="12" font-weight="bold" fill="#111">DNA Content</text>
<text x="60.4" y="432.4" font-size="9" font-weight="normal" text-anchor="start" fill="#111" stroke="#111" stroke-width="0.3">2n</text>
<text x="73.8" y="451.79999999999995" font-size="9" font-weight="normal" text-anchor="start" fill="#111" stroke="#111" stroke-width="0.3">4n</text>
<text x="85.5" y="459.7" font-size="9" font-weight="normal" text-anchor="start" fill="#111" stroke="#111" stroke-width="0.3">8n</text>
<text x="94.8" y="420.9" font-size="9" font-weight="normal" text-anchor="start" fill="#111" stroke="#111" stroke-width="0.3">16n</text>
<text x="109.3" y="428.5" font-size="9" font-weight="normal" text-anchor="start" fill="#111" stroke="#111" stroke-width="0.3">32n</text>
<text x="120.2" y="440.4" font-size="9" font-weight="normal" text-anchor="start" fill="#111" stroke="#111" stroke-width="0.3">64n</text>
<text x="183.60000000000002" y="431.09999999999997" font-size="9" font-weight="normal" text-anchor="start" fill="#111" stroke="#111" stroke-width="0.3">2n</text>
<text x="196.20000000000002" y="451.09999999999997" font-size="9" font-weight="normal" text-anchor="start" fill="#111" stroke="#111" stroke-width="0.3">4n</text>
<text x="208.20000000000002" y="447.9" font-size="9" font-weight="normal" text-anchor="start" fill="#111" stroke="#111" stroke-width="0.3">8n</text>
<text x="215.9" y="403.4" font-size="9" font-weight="normal" text-anchor="start" fill="#111" stroke="#111" stroke-width="0.3">16n</text>
<text x="232.0" y="440.2" font-size="9" font-weight="normal" text-anchor="start" fill="#111" stroke="#111" stroke-width="0.3">32n</text>
<text x="243.4" y="459.59999999999997" font-size="9" font-weight="normal" text-anchor="start" fill="#111" stroke="#111" stroke-width="0.3">64n</text>
<line x1="346.0" y1="380.0" x2="346.0" y2="502.70000000000005" stroke="#111" stroke-width="1.2"/>
<line x1="345.4" y1="502.1" x2="509.4" y2="502.1" stroke="#111" stroke-width="1.2"/>
<line x1="343.4" y1="380.00" x2="346.0" y2="380.00" stroke="#111" stroke-width="1"/>
<text x="339.2" y="382.97" font-size="8.3" text-anchor="end" fill="#222" stroke="#222" stroke-width="0.25">4</text>
<line x1="343.4" y1="395.26" x2="346.0" y2="395.26" stroke="#111" stroke-width="1"/>
<text x="339.2" y="398.23" font-size="8.3" text-anchor="end" fill="#222" stroke="#222" stroke-width="0.25">3.5</text>
<line x1="343.4" y1="410.52" x2="346.0" y2="410.52" stroke="#111" stroke-width="1"/>
<text x="339.2" y="413.50" font-size="8.3" text-anchor="end" fill="#222" stroke="#222" stroke-width="0.25">3</text>
<line x1="343.4" y1="425.79" x2="346.0" y2="425.79" stroke="#111" stroke-width="1"/>
<text x="339.2" y="428.76" font-size="8.3" text-anchor="end" fill="#222" stroke="#222" stroke-width="0.25">2.5</text>
<line x1="343.4" y1="441.05" x2="346.0" y2="441.05" stroke="#111" stroke-width="1"/>
<text x="339.2" y="444.02" font-size="8.3" text-anchor="end" fill="#222" stroke="#222" stroke-width="0.25">2</text>
<line x1="343.4" y1="456.31" x2="346.0" y2="456.31" stroke="#111" stroke-width="1"/>
<text x="339.2" y="459.28" font-size="8.3" text-anchor="end" fill="#222" stroke="#222" stroke-width="0.25">1.5</text>
<line x1="343.4" y1="471.58" x2="346.0" y2="471.58" stroke="#111" stroke-width="1"/>
<text x="339.2" y="474.55" font-size="8.3" text-anchor="end" fill="#222" stroke="#222" stroke-width="0.25">1</text>
<line x1="343.4" y1="486.84" x2="346.0" y2="486.84" stroke="#111" stroke-width="1"/>
<text x="339.2" y="489.81" font-size="8.3" text-anchor="end" fill="#222" stroke="#222" stroke-width="0.25">0.5</text>
<line x1="343.4" y1="502.10" x2="346.0" y2="502.10" stroke="#111" stroke-width="1"/>
<text x="339.2" y="505.07" font-size="8.3" text-anchor="end" fill="#222" stroke="#222" stroke-width="0.25">0</text>
<line x1="427" y1="502.1" x2="427" y2="504.6" stroke="#111" stroke-width="1"/>
<line x1="508.9" y1="502.1" x2="508.9" y2="504.6" stroke="#111" stroke-width="1"/>
<line x1="386.45000000000005" y1="408.39" x2="386.45000000000005" y2="423.50" stroke="#333" stroke-width="1.1"/>
<line x1="383.45000000000005" y1="408.39" x2="389.45000000000005" y2="408.39" stroke="#333" stroke-width="1.1"/>
<rect x="369.8" y="423.50" width="33.30000000000001" height="78.60" fill="#000"/>
<text x="372.5" y="519.4" font-size="9.2" font-weight="bold" fill="#111">Control</text>
<line x1="468.55" y1="398.50" x2="468.55" y2="403.41" stroke="#333" stroke-width="1.1"/>
<line x1="465.55" y1="398.50" x2="471.55" y2="398.50" stroke="#333" stroke-width="1.1"/>
<rect x="452.1" y="403.41" width="32.89999999999998" height="98.69" fill="#000"/>
<text x="450.3" y="519.4" font-size="9.2" font-weight="bold" fill="#111">Apocynin</text>
<text transform="translate(320.6,448.2) rotate(-90)" font-size="9.2" font-weight="bold" text-anchor="middle" fill="#111">% MKs in S phase (2N)</text>
</svg>
</body></html>
